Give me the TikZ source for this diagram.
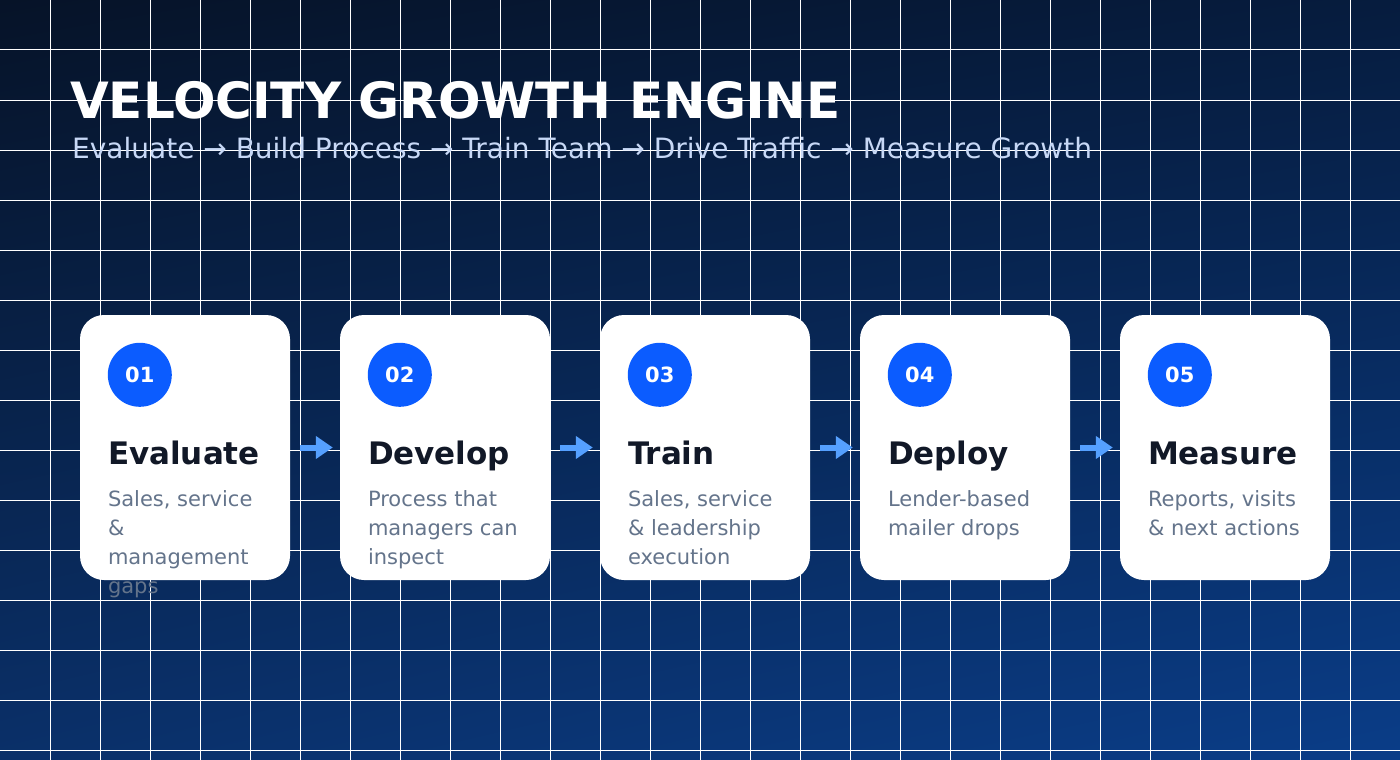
\documentclass[tikz,border=0pt]{standalone}
\usepackage{fontspec}
\setmainfont{DejaVu Sans}
\usetikzlibrary{arrows.meta,calc,positioning,shadings}
\definecolor{bgtl}{HTML}{061328}
\definecolor{bgtr}{HTML}{061C3E}
\definecolor{bgbl}{HTML}{0A3069}
\definecolor{bgbr}{HTML}{0A3D88}
\definecolor{subblue}{HTML}{C7D8F6}
\definecolor{numblue}{HTML}{0B5CFF}
\definecolor{headink}{HTML}{111827}
\definecolor{descgray}{HTML}{64748B}
\definecolor{flowblue}{HTML}{55A0FF}
\begin{document}
\begin{tikzpicture}[x=1pt,y=-1pt,line join=round]
	\def\W{1400} \def\H{760}
	\tikzset{
		gridline/.style={white,line width=1pt},
		title/.style={anchor=base west,inner sep=0,white,font=\fontsize{50}{60}\selectfont\bfseries},
		subtitle/.style={anchor=base west,inner sep=0,subblue,font=\fontsize{28}{34}\selectfont},
		card/.style={fill=white,rounded corners=24pt,minimum width=210pt,minimum height=265pt,inner sep=0},
		stepdot/.style={circle,fill=numblue,minimum size=64pt,inner sep=0,text=white,font=\fontsize{21}{25}\selectfont\bfseries},
		head/.style={anchor=base west,inner sep=0,headink,font=\fontsize{31}{36}\selectfont\bfseries},
		desc/.style={anchor=base west,inner sep=0,descgray,font=\fontsize{21}{29}\selectfont},
		flow/.style={flowblue,line width=6pt,-{Triangle[length=17pt,width=22pt]}}
	}
	\useasboundingbox (0,0) rectangle (\W,\H);
	\shade[upper left=bgtl,upper right=bgtr,lower left=bgbl,lower right=bgbr] (0,0) rectangle (\W,\H);
	\foreach \x in {50,100,...,1350} \draw[gridline] (\x,0)--(\x,\H);
	\foreach \y in {50,100,...,750} \draw[gridline] (0,\y)--(\W,\y);
	\node[title] (title) at (70,118) {VELOCITY GROWTH ENGINE};
	\node[subtitle] (sub) at (72,158) {Evaluate → Build Process → Train Team → Drive Traffic → Measure Growth};
	% five steps
	\foreach \i/\nm/\hd/\desc in {1/01/Evaluate/{{Sales, service},\&,management,gaps},
		2/02/Develop/{Process that,managers can,inspect},
		3/03/Train/{{Sales, service},\& leadership,execution},
		4/04/Deploy/{Lender-based,mailer drops},
		5/05/Measure/{{Reports, visits},\& next actions}}{
		\node[card] (c\i) at ({185+260*(\i-1)},447.5) {};
		\node[stepdot] (n\i) at ($(c\i.north west)+(60,60)$) {\nm};
		\node[head] (h\i) at ($(c\i.north west)+(28,150)$) {\hd};
		\foreach \ln [count=\k] in \desc
			\node[desc] (d\i-\k) at ($(c\i.north west)+(28,{192+29*(\k-1)})$) {\ln};
	}
	\foreach \i [evaluate=\i as \j using int(\i+1)] in {1,...,4}
		\draw[flow] ([xshift=10pt]c\i.east) -- ([xshift=-7pt]c\j.west);
\end{tikzpicture}
\end{document}
